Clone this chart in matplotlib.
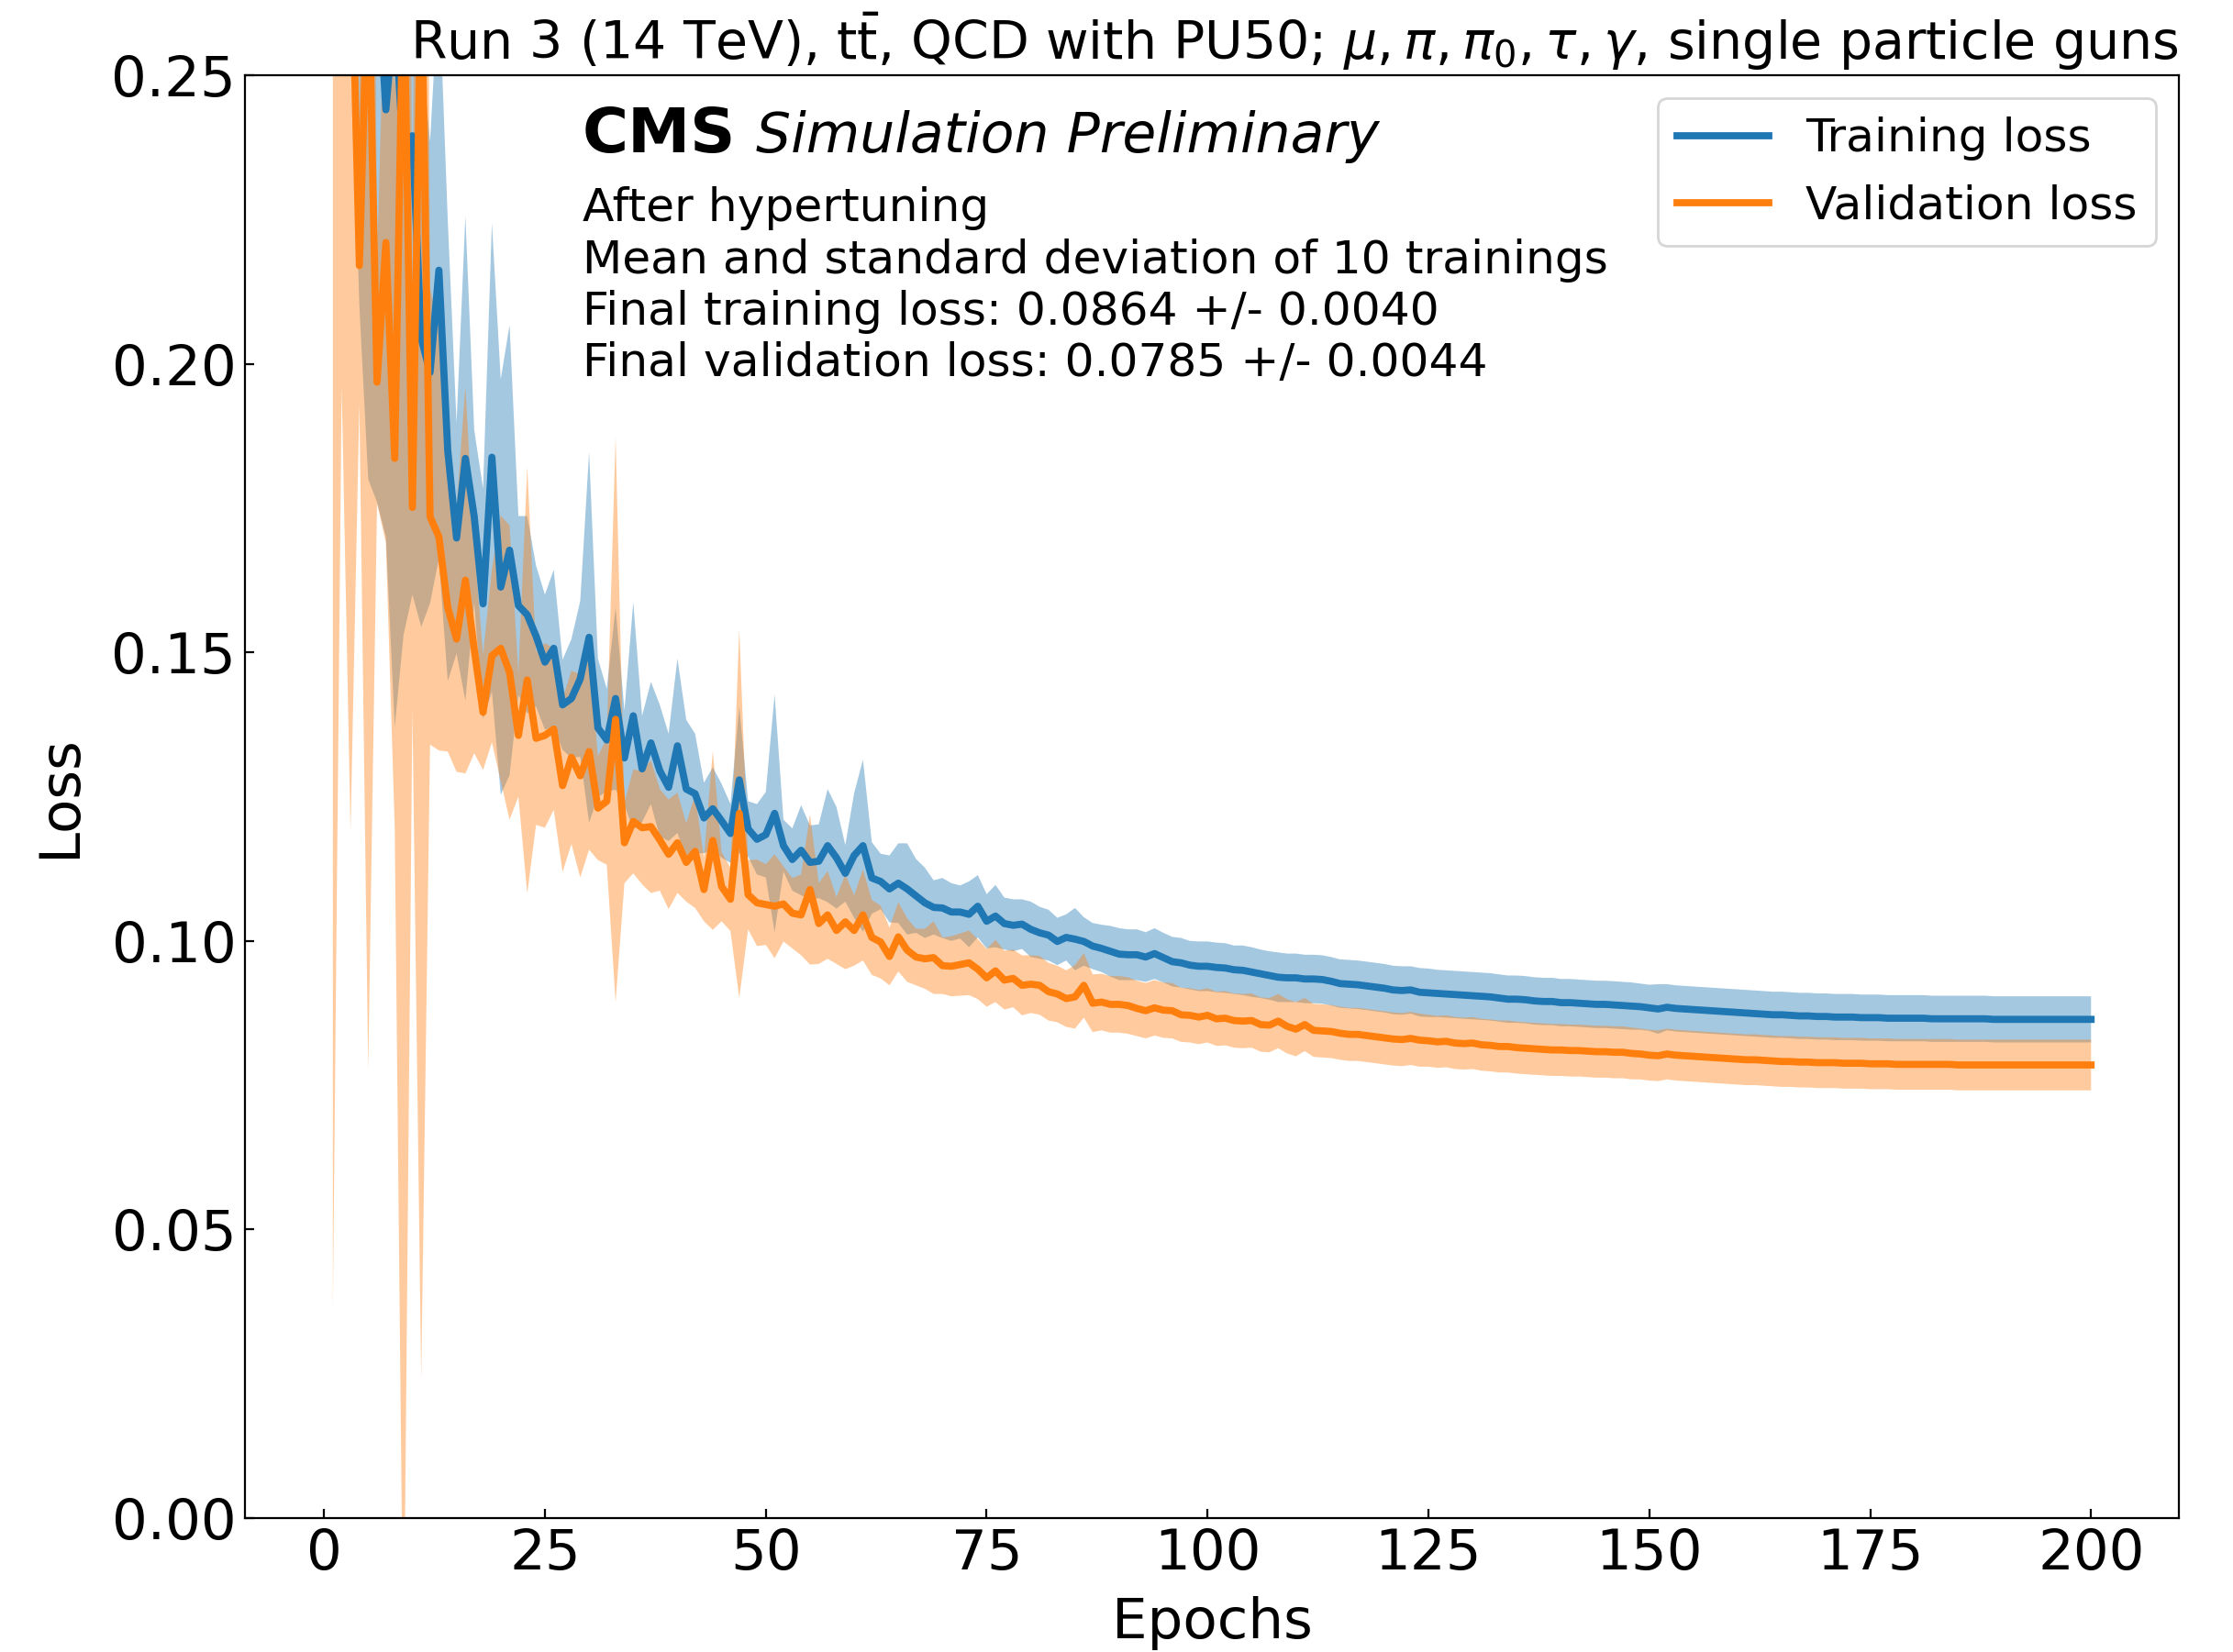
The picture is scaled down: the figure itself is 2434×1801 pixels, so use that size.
import numpy as np
import matplotlib

matplotlib.use("Agg")
import matplotlib.pyplot as plt

epochs = np.arange(1, 201)

# mean and std of the training loss over 10 trainings
train_mean = [
    0.420, 0.360, 0.330, 0.300, 0.285, 0.270, 0.2440, 0.262, 0.2355, 0.2395,
    0.2044, 0.1985, 0.2162, 0.1850, 0.1698, 0.1836, 0.1735, 0.1584, 0.1838, 0.1613,
    0.1677, 0.1581, 0.1565, 0.1528, 0.1483, 0.1507, 0.1409, 0.1420, 0.1454, 0.1526,
    0.1369, 0.1348, 0.1420, 0.1317, 0.1390, 0.1298, 0.1343, 0.1295, 0.1266, 0.1338,
    0.1263, 0.1255, 0.1213, 0.1229, 0.1208, 0.1186, 0.1279, 0.1194, 0.1176, 0.1184,
    0.1221, 0.1165, 0.1141, 0.1157, 0.1136, 0.1138, 0.1165, 0.1144, 0.1117, 0.1148,
    0.1165, 0.1109, 0.1103, 0.1090, 0.1100, 0.1090, 0.1078, 0.1066, 0.1058, 0.1057,
    0.1050, 0.1050, 0.1046, 0.1060, 0.1034, 0.1043, 0.1030, 0.1027, 0.1029, 0.1020,
    0.1014, 0.1010, 0.0999, 0.1006, 0.1003, 0.0999, 0.0991, 0.0987, 0.0982, 0.0977,
    0.0976, 0.0976, 0.0972, 0.0978, 0.0971, 0.0964, 0.0962, 0.0958, 0.0956, 0.0956,
    0.0954, 0.0953, 0.0950, 0.0949, 0.0946, 0.0943, 0.0940, 0.0937, 0.0936, 0.0936,
    0.0934, 0.0934, 0.0933, 0.0930, 0.0926, 0.0925, 0.0924, 0.0922, 0.0920, 0.0918,
    0.0915, 0.0914, 0.0915, 0.0911, 0.0910, 0.0909, 0.0908, 0.0907, 0.0906, 0.0905,
    0.0904, 0.0903, 0.0901, 0.0899, 0.0899, 0.0898, 0.0896, 0.0895, 0.0895, 0.0893,
    0.0893, 0.0892, 0.0891, 0.0890, 0.0890, 0.0889, 0.0888, 0.0887, 0.0886, 0.0884,
    0.0882, 0.0885, 0.0883, 0.0882, 0.0881, 0.0880, 0.0879, 0.0878, 0.0877, 0.0876,
    0.0875, 0.0874, 0.0873, 0.0872, 0.0872, 0.0871, 0.0870, 0.0870, 0.0869, 0.0869,
    0.0868, 0.0868, 0.0868, 0.0867, 0.0867, 0.0867, 0.0866, 0.0866, 0.0866, 0.0866,
    0.0866, 0.0865, 0.0865, 0.0865, 0.0865, 0.0865, 0.0865, 0.0865, 0.0864, 0.0864,
    0.0864, 0.0864, 0.0864, 0.0864, 0.0864, 0.0864, 0.0864, 0.0864, 0.0864, 0.0864,
]
train_std = [
    0.100, 0.090, 0.070, 0.090, 0.105, 0.094, 0.074, 0.125, 0.0825, 0.0795,
    0.050, 0.040, 0.050, 0.040, 0.020, 0.042, 0.015, 0.020, 0.0406, 0.036,
    0.039, 0.0155, 0.0171, 0.0122, 0.0117, 0.0136, 0.0078, 0.0103, 0.0135, 0.0321,
    0.0120, 0.0089, 0.0158, 0.0082, 0.0197, 0.0092, 0.0106, 0.0114, 0.0093, 0.0151,
    0.0120, 0.0104, 0.0061, 0.0072, 0.0064, 0.0051, 0.0127, 0.0048, 0.0061, 0.0074,
    0.0206, 0.0045, 0.0054, 0.0078, 0.0064, 0.0064, 0.0098, 0.0088, 0.0049, 0.0108,
    0.0149, 0.0062, 0.0048, 0.0058, 0.0069, 0.0079, 0.0064, 0.0061, 0.0047, 0.0052,
    0.0050, 0.0046, 0.0057, 0.0054, 0.0047, 0.0054, 0.0045, 0.0045, 0.0043, 0.0048,
    0.0045, 0.0044, 0.0041, 0.0040, 0.0054, 0.0042, 0.0040, 0.0041, 0.0044, 0.0045,
    0.0044, 0.0044, 0.0043, 0.0044, 0.0043, 0.0043, 0.0043, 0.0042, 0.0043, 0.0043,
    0.0043, 0.0043, 0.0042, 0.0043, 0.0043, 0.0042, 0.0042, 0.0043, 0.0042, 0.0042,
    0.0042, 0.0042, 0.0042, 0.0042, 0.0042, 0.0042, 0.0042, 0.0042, 0.0042, 0.0042,
    0.0042, 0.0042, 0.0041, 0.0042, 0.0042, 0.0041, 0.0041, 0.0041, 0.0041, 0.0041,
    0.0041, 0.0041, 0.0041, 0.0041, 0.0041, 0.0041, 0.0041, 0.0041, 0.0041, 0.0041,
    0.0041, 0.0041, 0.0041, 0.0041, 0.0041, 0.0041, 0.0041, 0.0041, 0.0040, 0.0040,
    0.0043, 0.0040, 0.0040, 0.0040, 0.0040, 0.0040, 0.0040, 0.0040, 0.0040, 0.0040,
    0.0040, 0.0040, 0.0040, 0.0040, 0.0040, 0.0040, 0.0040, 0.0040, 0.0040, 0.0040,
    0.0040, 0.0040, 0.0040, 0.0040, 0.0040, 0.0040, 0.0040, 0.0040, 0.0040, 0.0040,
    0.0040, 0.0040, 0.0040, 0.0040, 0.0040, 0.0040, 0.0040, 0.0040, 0.0040, 0.0040,
    0.0040, 0.0040, 0.0040, 0.0040, 0.0040, 0.0040, 0.0040, 0.0040, 0.0040, 0.0040,
]

# mean and std of the validation loss over 10 trainings
val_mean = [
    0.300, 0.290, 0.280, 0.2170, 0.270, 0.1968, 0.2210, 0.1836, 0.270, 0.1751,
    0.270, 0.1735, 0.1700, 0.1578, 0.1523, 0.1625, 0.1505, 0.1396, 0.1494, 0.1507,
    0.1465, 0.1356, 0.1452, 0.1351, 0.1356, 0.1367, 0.1269, 0.1318, 0.1286, 0.1328,
    0.1230, 0.1242, 0.1384, 0.1170, 0.1207, 0.1196, 0.1198, 0.1175, 0.1150, 0.1170,
    0.1136, 0.1155, 0.1089, 0.1174, 0.1094, 0.1072, 0.1221, 0.1080, 0.1066, 0.1063,
    0.1060, 0.1064, 0.1048, 0.1045, 0.1089, 0.1030, 0.1045, 0.1018, 0.1033, 0.1018,
    0.1045, 0.1006, 0.0998, 0.0973, 0.1007, 0.0984, 0.0972, 0.0969, 0.0971, 0.0957,
    0.0956, 0.0959, 0.0962, 0.0951, 0.0936, 0.0948, 0.0932, 0.0935, 0.0923, 0.0925,
    0.0923, 0.0912, 0.0908, 0.0900, 0.0903, 0.0923, 0.0892, 0.0894, 0.0890, 0.0890,
    0.0888, 0.0883, 0.0879, 0.0884, 0.0880, 0.0879, 0.0872, 0.0871, 0.0868, 0.0871,
    0.0865, 0.0866, 0.0862, 0.0861, 0.0862, 0.0855, 0.0854, 0.0861, 0.0852, 0.0847,
    0.0855, 0.0845, 0.0844, 0.0843, 0.0840, 0.0838, 0.0838, 0.0836, 0.0834, 0.0832,
    0.0830, 0.0829, 0.0831, 0.0828, 0.0827, 0.0825, 0.0826, 0.0823, 0.0822, 0.0823,
    0.0820, 0.0819, 0.0817, 0.0817, 0.0815, 0.0814, 0.0813, 0.0812, 0.0811, 0.0811,
    0.0810, 0.0810, 0.0809, 0.0808, 0.0808, 0.0807, 0.0807, 0.0805, 0.0804, 0.0802,
    0.0801, 0.0804, 0.0802, 0.0801, 0.0800, 0.0799, 0.0798, 0.0797, 0.0796, 0.0795,
    0.0794, 0.0794, 0.0793, 0.0792, 0.0791, 0.0791, 0.0790, 0.0790, 0.0789, 0.0789,
    0.0789, 0.0788, 0.0788, 0.0788, 0.0787, 0.0787, 0.0787, 0.0786, 0.0786, 0.0786,
    0.0786, 0.0786, 0.0786, 0.0786, 0.0785, 0.0785, 0.0785, 0.0785, 0.0785, 0.0785,
    0.0785, 0.0785, 0.0785, 0.0785, 0.0785, 0.0785, 0.0785, 0.0785, 0.0785, 0.0785,
]
val_std = [
    0.264, 0.094, 0.161, 0.024, 0.1925, 0.021, 0.052, 0.064, 0.300, 0.035,
    0.246, 0.0395, 0.037, 0.025, 0.023, 0.0335, 0.018, 0.010, 0.015, 0.023,
    0.0255, 0.0106, 0.037, 0.015, 0.016, 0.014, 0.015, 0.015, 0.0176, 0.017,
    0.009, 0.011, 0.049, 0.007, 0.009, 0.0098, 0.0115, 0.0088, 0.0095, 0.0087,
    0.0068, 0.0098, 0.0055, 0.0155, 0.006, 0.0055, 0.032, 0.006, 0.0075, 0.007,
    0.009, 0.0065, 0.0061, 0.007, 0.013, 0.007, 0.0076, 0.0058, 0.0082, 0.0061,
    0.0079, 0.0065, 0.0063, 0.005, 0.006, 0.0055, 0.0049, 0.0052, 0.0063, 0.0049,
    0.0052, 0.0054, 0.0056, 0.0052, 0.0050, 0.0054, 0.0051, 0.0050, 0.0052, 0.0050,
    0.0051, 0.0050, 0.0049, 0.0049, 0.0055, 0.0056, 0.0050, 0.0049, 0.0049, 0.0049,
    0.0049, 0.0048, 0.0048, 0.0048, 0.0048, 0.0048, 0.0047, 0.0047, 0.0047, 0.0047,
    0.0047, 0.0047, 0.0047, 0.0047, 0.0047, 0.0047, 0.0047, 0.0047, 0.0047, 0.0047,
    0.0046, 0.0046, 0.0046, 0.0046, 0.0046, 0.0046, 0.0046, 0.0046, 0.0046, 0.0046,
    0.0046, 0.0046, 0.0046, 0.0046, 0.0045, 0.0045, 0.0045, 0.0045, 0.0045, 0.0045,
    0.0045, 0.0045, 0.0045, 0.0045, 0.0045, 0.0045, 0.0045, 0.0045, 0.0045, 0.0045,
    0.0045, 0.0045, 0.0045, 0.0045, 0.0045, 0.0045, 0.0045, 0.0045, 0.0044, 0.0044,
    0.0044, 0.0044, 0.0044, 0.0044, 0.0044, 0.0044, 0.0044, 0.0044, 0.0044, 0.0044,
    0.0044, 0.0044, 0.0044, 0.0044, 0.0044, 0.0044, 0.0044, 0.0044, 0.0044, 0.0044,
    0.0044, 0.0044, 0.0044, 0.0044, 0.0044, 0.0044, 0.0044, 0.0044, 0.0044, 0.0044,
    0.0044, 0.0044, 0.0044, 0.0044, 0.0044, 0.0044, 0.0044, 0.0044, 0.0044, 0.0044,
    0.0044, 0.0044, 0.0044, 0.0044, 0.0044, 0.0044, 0.0044, 0.0044, 0.0044, 0.0044,
]

info_lines = [
    "After hypertuning",
    "Mean and standard deviation of 10 trainings",
    "Final training loss: 0.0864 +/- 0.0040",
    "Final validation loss: 0.0785 +/- 0.0044",
]
title = (r"Run 3 (14 TeV), t$\bar{\mathrm{t}}$, QCD with PU50; "
         r"$\mu, \pi, \pi_0, \tau, \gamma$, single particle guns")

tm, ts = np.array(train_mean), np.array(train_std)
vm, vs = np.array(val_mean), np.array(val_std)

fig = plt.figure(figsize=(12.17, 9.005), dpi=200)
ax = fig.add_axes([0.1097, 0.0811, 0.8661, 0.8734])

ax.fill_between(epochs, tm - ts, tm + ts, color="C0", alpha=0.4, linewidth=0)
ax.fill_between(epochs, vm - vs, vm + vs, color="C1", alpha=0.4, linewidth=0)
ax.plot(epochs, tm, color="C0", lw=2.8, label="Training loss")
ax.plot(epochs, vm, color="C1", lw=2.8, label="Validation loss")

ax.set_ylim(0, 0.25)
ax.set_xticks(range(0, 201, 25))
ax.set_yticks([0, 0.05, 0.10, 0.15, 0.20, 0.25])
ax.yaxis.set_major_formatter(matplotlib.ticker.FormatStrFormatter("%.2f"))
ax.tick_params(direction="in", labelsize=22)
ax.set_xlabel("Epochs", fontsize=22, labelpad=6)
ax.set_ylabel("Loss", fontsize=22, labelpad=9.5)
ax.set_title(title, loc="right", fontsize=20.5)

ax.text(0.1746, 0.9466, "CMS", transform=ax.transAxes, fontsize=24.6,
        fontweight="bold", va="baseline")
ax.text(0.2642, 0.9466, "Simulation Preliminary", transform=ax.transAxes,
        fontsize=21.6, style="italic", va="baseline")
for line, y in zip(info_lines, [0.8992, 0.8627, 0.8272, 0.7917]):
    ax.text(0.1746, y, line, transform=ax.transAxes, fontsize=18.1, va="baseline")

ax.legend(loc="upper right", fontsize=18.1)

fig.savefig("out.png", dpi=200)
